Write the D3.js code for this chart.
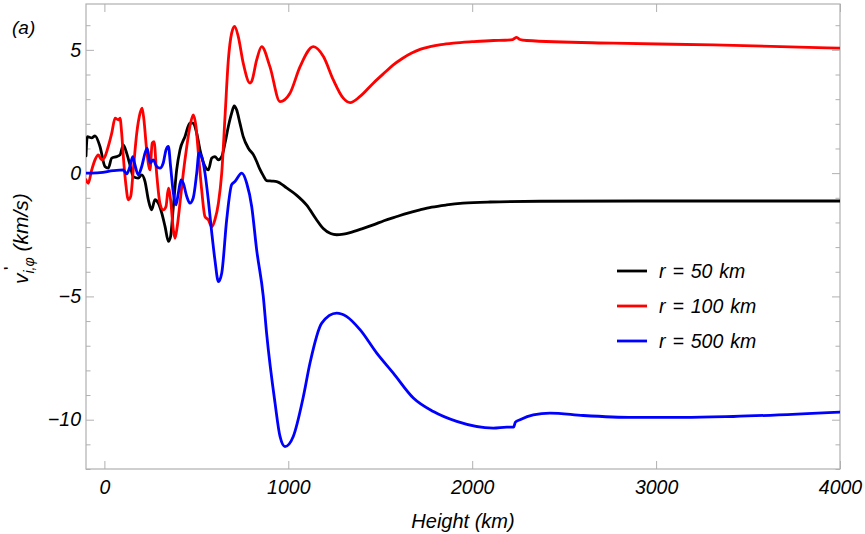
<!DOCTYPE html>
<html>
<head>
<meta charset="utf-8">
<script src="https://cdn.jsdelivr.net/npm/d3@7"></script>
<style>
  html, body { margin: 0; padding: 0; background: #fff; }
  svg { display: block; }
  text { font-family: "Liberation Sans", Arial, sans-serif; }
</style>
</head>
<body>
<svg id="chart" width="865" height="534"></svg>
<script>
// ---------- data ----------
const xTicks = [0, 1000, 2000, 3000, 4000];
const yTicks = [-10, -5, 0, 5];
const yMinorTicks = [-12, -11, -9, -8, -7, -6, -4, -3, -2, -1, 1, 2, 3, 4, 6];
const seriesNames = ["r = 50 km", "r = 100 km", "r = 500 km"];
const seriesColors = ["#000000", "#ff0000", "#0000ff"];

const h50 = [-100,-93,-69,-51,-24,3,21,40,67,85,103,121,139,157,184,203,221,239,257,275,293,312,330,348,360,375,393,411,438,465,483,502,520,547,565,584,601,620,638,656,674,692,706,719,737,755,783,810,828,846,864,882,910,937,991,1046,1100,1150,1190,1230,1263,1300,1336,1400,1462,1520,1590,1650,1716,1780,1861,1950,2097,2369,3000,4000];
const v50 = [0.70,1.48,1.43,1.51,1.08,0.27,0.20,0.61,0.67,0.74,1.15,0.81,0.34,-0.14,-0.20,-0.07,-0.34,-1.08,-1.49,-1.08,-1.22,-1.62,-2.17,-2.77,-2.57,-1.35,0.13,0.94,1.48,2.03,2.03,1.62,0.94,0.27,0.13,0.61,0.67,0.54,0.67,1.22,1.89,2.43,2.73,2.57,2.03,1.48,1.01,0.75,0.47,0.15,-0.10,-0.30,-0.32,-0.34,-0.60,-0.90,-1.30,-1.85,-2.25,-2.45,-2.50,-2.47,-2.41,-2.26,-2.10,-1.93,-1.76,-1.62,-1.49,-1.38,-1.29,-1.22,-1.17,-1.14,-1.13,-1.13];

const h100 = [-100,-88,-69,-51,-33,-15,3,21,40,58,76,85,94,103,116,130,143,157,176,194,205,215,230,248,260,270,284,302,320,335,348,360,375,384,396,411,429,448,465,483,498,511,529,547,565,584,601,620,638,656,674,692,708,728,755,792,801,828,855,900,955,1009,1064,1136,1191,1245,1299,1336,1390,1462,1520,1571,1620,1671,1720,1771,1830,1897,2000,2115,2178,2220,2242,2260,2296,2767,3311,4000];
const v100 = [-0.27,-0.41,0.13,0.54,0.74,0.54,0.67,1.08,1.62,2.23,2.16,2.23,1.62,0.67,-0.41,-1.08,-0.95,0.13,1.62,2.43,2.64,2.16,0.94,0.13,1.22,1.28,0,-1.22,-1.49,-1.35,-0.61,-1.08,-2.30,-2.64,-2.17,-1.22,0,1.08,1.89,2.36,1.89,0.81,-0.68,-1.76,-1.89,-2.17,-1.89,-1.22,0,2.30,4.59,5.68,5.95,5.54,4.46,3.65,3.72,4.59,5.13,4.32,2.90,3.24,4.32,5.13,4.73,3.78,3.04,2.86,3.11,3.65,4.05,4.39,4.65,4.87,5.03,5.13,5.21,5.27,5.33,5.38,5.39,5.42,5.51,5.42,5.38,5.27,5.20,5.07];

const h500 = [-100,-24,48,103,121,139,154,166,184,203,221,233,248,266,284,302,320,335,348,360,375,389,402,417,429,448,465,483,502,514,529,547,565,584,601,620,638,665,692,710,747,774,801,828,864,882,928,955,982,1027,1082,1118,1182,1263,1318,1390,1481,1571,1680,1789,1916,2115,2188,2225,2235,2260,2332,2423,2604,2876,3148,3420,4000];
const v500 = [0,0.02,0.10,0.13,-0.03,0.27,0.67,0.34,-0.07,0.27,0.81,1.01,0.41,0.54,0.27,0.20,0.41,0.94,1.08,0.27,-0.81,-1.29,-0.81,-0.27,-0.41,-0.95,-1.22,-1.01,0,0.81,0.67,0,-1.08,-2.43,-3.52,-4.40,-4.06,-1.89,-0.47,-0.34,0,-0.41,-1.35,-3.11,-5.0,-6.49,-9.33,-10.68,-11.09,-10.68,-9.06,-7.70,-6.08,-5.68,-5.82,-6.35,-7.30,-8.11,-9.12,-9.67,-10.07,-10.34,-10.30,-10.30,-10.10,-10.0,-9.80,-9.73,-9.83,-9.91,-9.91,-9.87,-9.69];

const seriesH = [h50, h100, h500];
const seriesV = [v50, v100, v500];

// ---------- layout ----------
const svg = d3.select("#chart");
const mLeft = 86, mRight = 840, mTop = 4, mBottom = 469;
const x = d3.scaleLinear().domain([-100, 4000]).range([mLeft, mRight]);
const y = d3.scaleLinear().domain([-12, 6.86]).range([mBottom, mTop]);
const frameColor = "#b0b0b0";

svg.append("defs").append("clipPath").attr("id", "clip")
  .append("rect").attr("x", mLeft).attr("y", mTop).attr("width", mRight - mLeft).attr("height", mBottom - mTop);

function styleAxis(g, withLabels) {
  g.select(".domain").remove();
  g.selectAll(".tick line").attr("stroke", frameColor).attr("stroke-width", 1);
  g.selectAll(".tick text")
    .attr("fill", "#000")
    .style("font-size", "19.5px")
    .style("font-style", "italic")
    .style("font-family", "'Liberation Sans', Arial, sans-serif");
  if (!withLabels) g.selectAll(".tick text").remove();
}

const fmt = d => (d < 0 ? "\u2212" + Math.abs(d) : String(d));

// bottom
svg.append("g").attr("transform", `translate(0,${mBottom})`)
  .call(d3.axisBottom(x).tickValues(xTicks).tickSize(-8).tickSizeOuter(0).tickPadding(11).tickFormat(fmt))
  .call(g => styleAxis(g, true));
// top
svg.append("g").attr("transform", `translate(0,${mTop})`)
  .call(d3.axisTop(x).tickValues(xTicks).tickSize(-8).tickSizeOuter(0))
  .call(g => styleAxis(g, false));
// left major
svg.append("g").attr("transform", `translate(${mLeft},0)`)
  .call(d3.axisLeft(y).tickValues(yTicks).tickSize(-8).tickSizeOuter(0).tickPadding(5).tickFormat(fmt))
  .call(g => styleAxis(g, true));
// left minor
svg.append("g").attr("transform", `translate(${mLeft},0)`)
  .call(d3.axisLeft(y).tickValues(yMinorTicks).tickSize(-4.5).tickSizeOuter(0).tickFormat(""))
  .call(g => styleAxis(g, false));
// right major / minor
svg.append("g").attr("transform", `translate(${mRight},0)`)
  .call(d3.axisRight(y).tickValues(yTicks).tickSize(-8).tickSizeOuter(0))
  .call(g => styleAxis(g, false));
svg.append("g").attr("transform", `translate(${mRight},0)`)
  .call(d3.axisRight(y).tickValues(yMinorTicks).tickSize(-4.5).tickSizeOuter(0).tickFormat(""))
  .call(g => styleAxis(g, false));

// frame
svg.append("rect").attr("x", mLeft).attr("y", mTop).attr("width", mRight - mLeft).attr("height", mBottom - mTop)
  .attr("fill", "none").attr("stroke", frameColor).attr("stroke-width", 1.2);

// curves
const line = d3.line().x(d => x(d[0])).y(d => y(d[1])).curve(d3.curveMonotoneX);
const plot = svg.append("g").attr("clip-path", "url(#clip)");
seriesH.forEach((hs, i) => {
  const pts = hs.map((h, j) => [h, seriesV[i][j]]);
  plot.append("path").datum(pts)
    .attr("d", line)
    .attr("fill", "none")
    .attr("stroke", seriesColors[i])
    .attr("stroke-width", 2.8)
    .attr("stroke-linejoin", "round")
    .attr("stroke-linecap", "round");
});

// legend
const legend = svg.append("g");
seriesNames.forEach((name, i) => {
  const yy = 271 + i * 35;
  legend.append("line").attr("x1", 617).attr("x2", 647).attr("y1", yy).attr("y2", yy)
    .attr("stroke", seriesColors[i]).attr("stroke-width", 2.8);
  legend.append("text").attr("x", 659).attr("y", yy + 6.5)
    .style("font-size", "19.5px").style("font-style", "italic").style("word-spacing", "1.5px").text(name);
});

// axis labels
svg.append("text").attr("x", 463).attr("y", 528).attr("text-anchor", "middle")
  .style("font-size", "20px").style("font-style", "italic").text("Height (km)");

const yl = svg.append("g").attr("transform", "translate(28,284) rotate(-90)");
const ylt = yl.append("text").style("font-size", "21px").style("font-style", "italic");
ylt.append("tspan").text("v");
ylt.append("tspan").attr("dy", 6).style("font-size", "14px").text("i,\u03C6");
ylt.append("tspan").attr("dy", -6).text(" (km/s)");
yl.append("text").attr("x", 14).attr("y", -14).style("font-size", "14px").style("font-weight", "bold").text("'");

svg.append("text").attr("x", 12).attr("y", 34).style("font-size", "19px").style("font-style", "italic").text("(a)");
</script>
</body>
</html>
